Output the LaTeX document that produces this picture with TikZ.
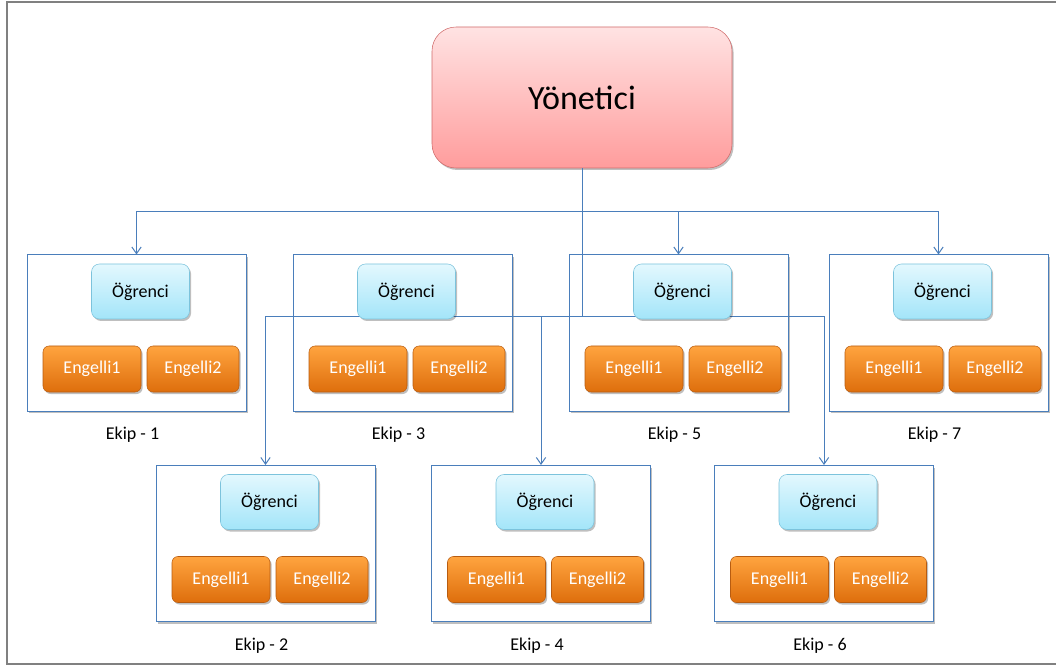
\documentclass[tikz,border=0pt]{standalone}
\usepackage{fontspec}
\setmainfont{Carlito}
\usetikzlibrary{arrows.meta,shadows}

\definecolor{linkblue}{HTML}{4A7EBB}
\definecolor{framegray}{HTML}{808080}
\definecolor{bosstop}{HTML}{FFE3E3}
\definecolor{bossbot}{HTML}{FF9C9C}
\definecolor{bossline}{HTML}{D06A6A}
\definecolor{stutop}{HTML}{E3F8FE}
\definecolor{stubot}{HTML}{A3E5F9}
\definecolor{stuline}{HTML}{7CC3DC}
\definecolor{distop}{HTML}{FFA43F}
\definecolor{disbot}{HTML}{DE6E0C}
\definecolor{disline}{HTML}{B85C10}

\tikzset{
	softshadow/.style={drop shadow={shadow xshift=1.2pt, shadow yshift=-1.5pt, fill=black, opacity=0.25}},
	boss/.style={rectangle, rounded corners=18pt, draw=bossline, top color=bosstop, bottom color=bossbot,
		minimum width=225pt, minimum height=105.75pt, font=\fontsize{25.5}{30}\selectfont, softshadow},
	team/.style={rectangle, draw=linkblue, fill=white, line width=0.75pt,
		minimum width=164.25pt, minimum height=117pt, softshadow},
	student/.style={rectangle, rounded corners=6pt, draw=stuline, top color=stutop, bottom color=stubot,
		minimum width=73.5pt, minimum height=41.25pt, font=\fontsize{13.5}{16}\selectfont, softshadow},
	disabled/.style={rectangle, rounded corners=4.5pt, draw=disline, top color=distop, bottom color=disbot,
		text=white, minimum height=34.5pt, font=\fontsize{13.5}{16}\selectfont, softshadow},
	teamlabel/.style={font=\fontsize{13.5}{16}\selectfont},
	link/.style={draw=linkblue, line width=0.75pt, -{Straight Barb[length=5pt, width=7pt]}}
}

\begin{document}
\begin{tikzpicture}[x=0.75pt, y=-0.75pt]
	\useasboundingbox (0,0) rectangle (1056,666);
	\draw[framegray, line width=1.5pt] (1056,2) -- (7,2) -- (7,664) -- (1056,664);

	\node (Y) at (582,97.5)	[boss]	{Yönetici};

	% team frames and captions
	\foreach \i/\x/\y in {1/136.5/333, 2/265.5/543.5, 3/402.5/333, 4/541/543.5, 5/678.5/333, 6/824/543.5, 7/938.5/333} {
		\node (T\i) at (\x,\y)	[team]	{};
		\node (K\i) at (\x-4,\y+102)	[teamlabel]	{Ekip - \i};
	}

	\coordinate (U) at (582,212);
	\coordinate (L) at (582,317);
	\draw[link] (Y.south) -- (U) -| (T1.north);
	\draw[link] (Y.south) -- (U) -| (T5.north);
	\draw[link] (Y.south) -- (U) -| (T7.north);
	\draw[link] (Y.south) -- (L) -| (T2.north);
	\draw[link] (Y.south) -- (L) -| (T4.north);
	\draw[link] (Y.south) -- (L) -| (T6.north);

	% members of each team
	\foreach \i/\x/\y in {1/136.5/333, 2/265.5/543.5, 3/402.5/333, 4/541/543.5, 5/678.5/333, 6/824/543.5, 7/938.5/333} {
		\node (S\i) at (\x+4,\y-41.5)	[student]	{Öğrenci};
		\node (A\i) at (\x-44.5,\y+36)	[disabled, minimum width=73.5pt]	{Engelli1};
		\node (B\i) at (\x+56.5,\y+36)	[disabled, minimum width=69pt]	{Engelli2};
	}
\end{tikzpicture}
\end{document}
